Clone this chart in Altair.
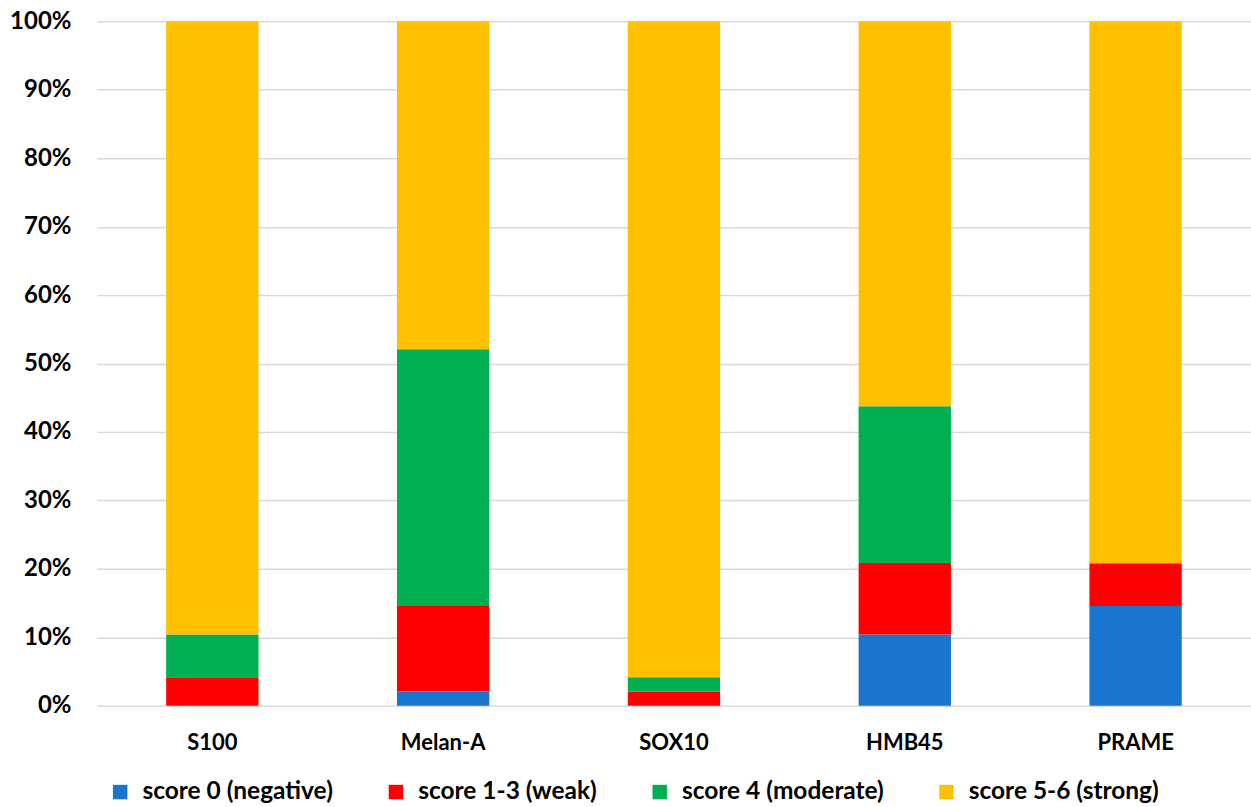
import altair as alt
import pandas as pd

categories = ["S100", "Melan-A", "SOX10", "HMB45", "PRAME"]
series = ["score 0 (negative)", "score 1-3 (weak)", "score 4 (moderate)", "score 5-6 (strong)"]
negative = [0.0, 2.08, 0.0, 10.42, 14.58]
weak = [4.17, 12.50, 2.08, 10.42, 6.25]
moderate = [6.25, 37.50, 2.08, 22.92, 0.0]
strong = [89.58, 47.92, 95.83, 56.25, 79.17]
colors = ["#1A75CF", "#FF0000", "#00B050", "#FFC000"]

rows = []
for si, (name, vals) in enumerate(zip(series, [negative, weak, moderate, strong])):
    for c, v in zip(categories, vals):
        rows.append({"marker": c, "score": name, "order": si, "value": v / 100.0})
df = pd.DataFrame(rows)

FONT = "Lato"

chart = alt.Chart(df).mark_bar(stroke=None).encode(
    x=alt.X("marker:N", sort=categories, title=None,
            scale=alt.Scale(paddingInner=0.6, paddingOuter=0.3),
            axis=alt.Axis(labelAngle=0, labelFont=FONT, labelFontSize=22, labelFontWeight="bold",
                          labelColor="#000000", labelPadding=27, ticks=False, domain=False)),
    y=alt.Y("value:Q", stack="zero", title=None,
            scale=alt.Scale(domain=[0, 1], nice=False),
            axis=alt.Axis(format=".0%", values=[i / 10 for i in range(11)],
                          labelFont=FONT, labelFontSize=24, labelFontWeight="bold",
                          labelColor="#000000", labelPadding=26, ticks=False, domain=False,
                          gridColor="#D9D9D9", gridWidth=1.5)),
    color=alt.Color("score:N", sort=series,
                    scale=alt.Scale(domain=series, range=colors),
                    legend=alt.Legend(title=None, orient="none", direction="horizontal",
                                      legendX=11, legendY=759,
                                      symbolType="square", symbolSize=210, symbolStrokeWidth=0,
                                      labelFont=FONT, labelFontSize=24.5, labelFontWeight="bold",
                                      labelColor="#000000", labelLimit=400,
                                      columnPadding=50, labelOffset=10)),
    order=alt.Order("order:Q", sort="ascending"),
).properties(
    width=1155, height=685,
    autosize=alt.AutoSizeParams(type="none"),
    padding={"left": 97, "top": 21, "right": 0, "bottom": 101},
).configure_view(stroke=None)

chart.save("out.html", embed_options={"renderer": "svg", "actions": False})
